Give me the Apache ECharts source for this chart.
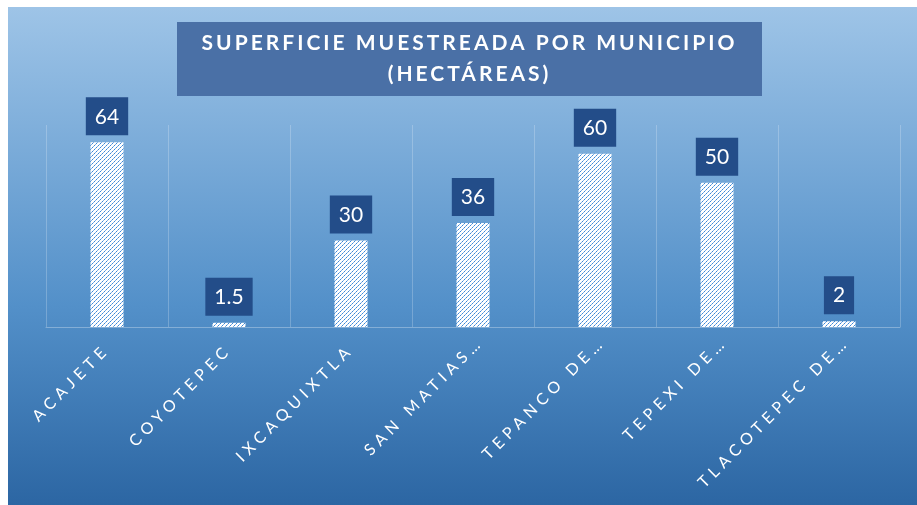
<!DOCTYPE html>
<html>
<head>
<meta charset="utf-8">
<script src="https://cdn.jsdelivr.net/npm/echarts@6/dist/echarts.min.js"></script>
<style>
html,body{margin:0;padding:0;background:#fff;}
#chart{width:917px;height:505px;}
</style>
</head>
<body>
<div id="chart"></div>
<script>
// letter-spacing support through a marker in the font family list (e.g. "Lato, ls5")
(function(){
  var proto = CanvasRenderingContext2D.prototype;
  var d = Object.getOwnPropertyDescriptor(proto, 'font');
  if (d && d.set && ('letterSpacing' in proto)) {
    Object.defineProperty(proto, 'font', {
      configurable: true,
      enumerable: d.enumerable,
      get: function(){ return d.get.call(this); },
      set: function(v){
        var m = /ls(\d+)/.exec(String(v));
        try { this.letterSpacing = m ? m[1] + 'px' : '0px'; } catch(e) {}
        d.set.call(this, v);
      }
    });
  }
})();

var categories = ['ACAJETE', 'COYOTEPEC', 'IXCAQUIXTLA', 'SAN MATIAS…', 'TEPANCO DE…', 'TEPEXI DE…', 'TLACOTEPEC DE…'];
var values = [64, 1.5, 30, 36, 60, 50, 2];
var titleLines = ['SUPERFICIE MUESTREADA POR MUNICIPIO', '(HECTÁREAS)'];

// hatch pattern (white with diagonal blue stripes)
var pat = document.createElement('canvas');
pat.width = 4; pat.height = 4;
var pc = pat.getContext('2d');
pc.fillStyle = '#ffffff';
pc.fillRect(0, 0, 4, 4);
for (var x = 0; x < 4; x++) {
  for (var y = 0; y < 4; y++) {
    var k = (x + y) % 4;
    if (k === 3) { pc.fillStyle = (x % 2 === 0) ? '#3d87d6' : '#7fb1e6'; pc.fillRect(x, y, 1, 1); }
  }
}

// truncated labels sit slightly further out along the diagonal
var axisData = categories.map(function (c) {
  if (c.indexOf('…') >= 0) {
    return {value: c, textStyle: {padding: [0, -11, 0, 0]}};
  }
  return c;
});

var chart = echarts.init(document.getElementById('chart'), null, {renderer: 'canvas'});
chart.setOption({
  backgroundColor: '#ffffff',
  animation: false,
  graphic: {
    elements: [
      {
        type: 'rect', z: -100, silent: true,
        shape: {x: 8, y: 7, width: 909, height: 498},
        style: {fill: new echarts.graphic.LinearGradient(0, 0, 0, 1, [
          {offset: 0, color: '#9ec4e7'},
          {offset: 0.6, color: '#5390c9'},
          {offset: 1, color: '#2c66a3'}
        ])}
      },
      {
        type: 'rect', z: 10, silent: true,
        shape: {x: 177, y: 22, width: 585, height: 74},
        style: {fill: '#4a70a6'}
      },
      {
        type: 'text', z: 11, silent: true,
        x: 469.5, y: 59,
        style: {
          text: titleLines.join('\n'),
          fill: '#ffffff',
          align: 'center',
          verticalAlign: 'middle',
          fontSize: 21,
          fontWeight: 'bold',
          fontFamily: 'Lato, ls3',
          lineHeight: 31
        }
      }
    ]
  },
  grid: {left: 46, right: 17, top: 125, bottom: 178, containLabel: false},
  xAxis: {
    type: 'category',
    data: axisData,
    axisLine: {show: true, lineStyle: {color: 'rgba(255,255,255,0.3)', width: 1}},
    axisTick: {show: false},
    splitLine: {show: true, lineStyle: {color: 'rgba(255,255,255,0.22)', width: 1}},
    axisLabel: {
      rotate: 45,
      margin: 20,
      color: '#ffffff',
      fontSize: 16,
      fontFamily: 'Lato, ls5',
      interval: 0
    }
  },
  yAxis: {
    type: 'value',
    min: 0, max: 70, interval: 10,
    show: false
  },
  series: [{
    type: 'bar',
    data: values,
    barWidth: 33,
    itemStyle: {color: {image: pat, repeat: 'repeat'}, opacity: 1},
    label: {
      show: true,
      position: 'top',
      distance: 7,
      color: '#ffffff',
      fontSize: 21,
      fontFamily: 'Lato',
      backgroundColor: '#234d89',
      padding: [7, 9, 6, 9],
      lineHeight: 25
    }
  }]
});
</script>
</body>
</html>
